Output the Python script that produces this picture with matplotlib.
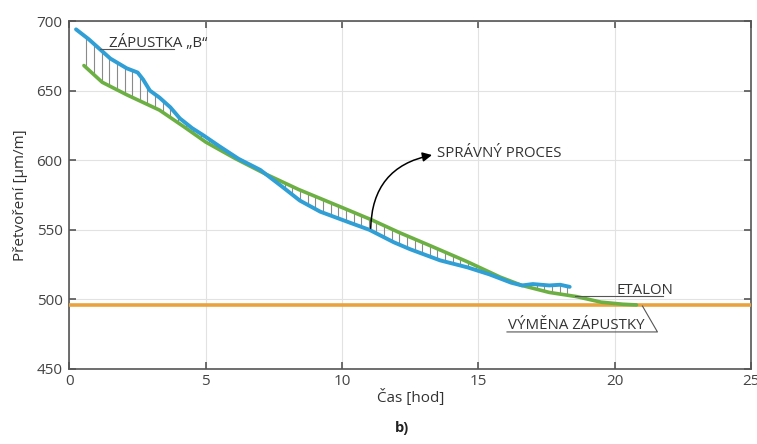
import numpy as np
import matplotlib
matplotlib.use("Agg")
import matplotlib.pyplot as plt

# ---- data ----
blue_x = [0.24, 0.7, 1.1, 1.5, 2.1, 2.5, 2.7, 2.95, 3.3, 3.7, 4.05, 4.5, 4.9, 5.5, 6.2,
          7.0, 7.8, 8.45, 9.2, 10.3, 11.0, 11.9, 12.5, 13.6, 14.6, 15.4, 16.2, 16.6,
          17.0, 17.6, 18.0, 18.35]
blue_y = [694, 687, 680, 673, 666, 663, 658, 650, 645, 638, 630, 623, 618, 610, 601,
          593, 581, 571, 563, 555, 550, 541, 536, 528, 523, 518, 512, 510,
          511, 510, 510.5, 509]

green_x = [0.53, 1.2, 2.1, 3.3, 4.2, 5.0, 6.1, 7.2, 8.4, 10.0, 11.1, 12.1, 13.3, 14.6,
           15.8, 16.6, 17.6, 18.6, 19.5, 20.3, 20.8]
green_y = [668, 656, 647, 636, 624, 613, 601, 590, 579, 566, 557, 548, 538, 527,
           516, 510, 505, 502, 498, 496.5, 496]

etalon_level = 495.7

x_ticks = [0, 5, 10, 15, 20, 25]
y_ticks = [450, 500, 550, 600, 650, 700]

plt.rcParams['font.family'] = ['Open Sans', 'DejaVu Sans']

fig = plt.figure(figsize=(7.57, 4.44), dpi=100)
ax = fig.add_axes([0.0918, 0.169, 0.9002, 0.7837])

ax.set_xlim(0, 25)
ax.set_ylim(450, 700)
ax.set_xticks(x_ticks)
ax.set_yticks(y_ticks)
ax.grid(True, color='#e2e2e2', lw=0.8)
ax.set_axisbelow(True)

# hatch lines between measured and reference curves
hx = np.arange(0.62, 18.3, 0.28)
hb = np.interp(hx, blue_x, blue_y)
hg = np.interp(hx, green_x, green_y)
ax.vlines(hx, hg, hb, color='#8a8a8a', lw=0.8, zorder=2)

ax.axhline(etalon_level, color='#e8a23e', lw=2.6, zorder=3)
ax.plot(green_x, green_y, color='#6cb043', lw=2.6, zorder=4, solid_capstyle='round')
ax.plot(blue_x, blue_y, color='#2f9fd6', lw=2.8, zorder=5, solid_capstyle='round')

for s in ax.spines.values():
    s.set_color('#555555')
    s.set_linewidth(1.2)
ax.tick_params(direction='in', top=True, right=True, length=5, width=1.2,
               color='#555555', labelsize=11, labelcolor='#444444')
ax.tick_params(axis='y', pad=5)
ax.tick_params(axis='x', pad=3.5)

ax.set_xlabel('Čas [hod]', fontsize=11, color='#333333', labelpad=0)
ax.set_ylabel('Přetvoření [μm/m]', fontsize=11, color='#333333', labelpad=6)

tc = '#333333'
lc = '#555555'
fs = 10.8
# ZÁPUSTKA „B“
ax.plot([1.12, 3.85], [680, 680], color=lc, lw=0.8, zorder=6)
ax.text(1.45, 681.3, 'ZÁPUSTKA „B“', fontsize=fs, color=tc, va='baseline', ha='left')

# SPRÁVNÝ PROCES
ax.annotate('', xy=(13.3, 603.7), xytext=(11.05, 551),
            arrowprops=dict(arrowstyle='-|>', connectionstyle='arc3,rad=-0.4',
                            color='black', lw=1.1, shrinkA=0, shrinkB=0,
                            mutation_scale=14), zorder=7)
ax.text(13.5, 604.5, 'SPRÁVNÝ PROCES', fontsize=fs, color=tc, va='center', ha='left')

# ETALON
ax.plot([18.53, 21.76], [502.4, 502.4], color=lc, lw=0.8, zorder=6)
ax.text(20.05, 503.8, 'ETALON', fontsize=fs, color=tc, va='baseline', ha='left')

# VÝMĚNA ZÁPUSTKY
ax.plot([16.05, 21.57, 21.02], [476.6, 476.6, 495.2], color=lc, lw=0.8, zorder=6)
ax.text(16.1, 478.6, 'VÝMĚNA ZÁPUSTKY', fontsize=fs, color=tc, va='baseline', ha='left')

fig.text(0.531, 0.036, 'b)', fontsize=10.5, fontweight='bold', color='#222222',
         ha='center', va='center')

fig.savefig('out.png', dpi=100)
